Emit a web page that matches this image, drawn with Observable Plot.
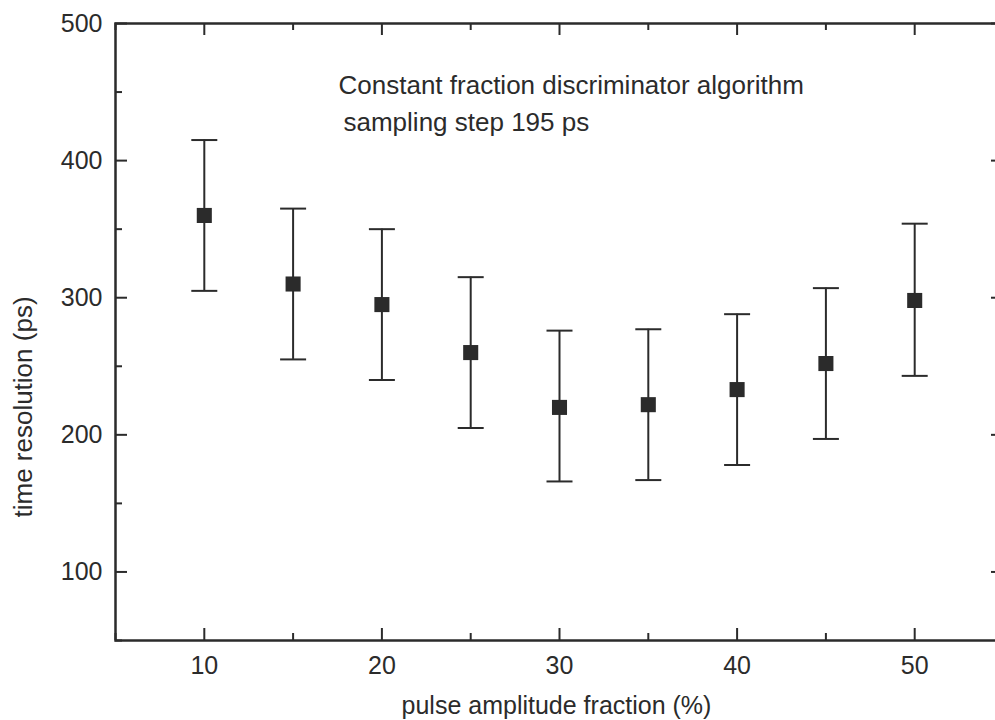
<!DOCTYPE html>
<html><head><meta charset="utf-8">
<script src="https://cdn.jsdelivr.net/npm/d3@7"></script>
<script src="https://cdn.jsdelivr.net/npm/@observablehq/plot@0.6"></script>
<style>
body{margin:0;background:#fff}
svg{font-family:"Liberation Sans",Arial,sans-serif}
</style>
</head><body><div id="chart"></div><script>
const fractions = [10, 15, 20, 25, 30, 35, 40, 45, 50];
const resolution = [360, 310, 295, 260, 220, 222, 233, 252, 298];
const errLow = [305, 255, 240, 205, 166, 167, 178, 197, 243];
const errHigh = [415, 365, 350, 315, 276, 277, 288, 307, 354];
const xMajor = [10, 20, 30, 40, 50];
const xMinor = [5, 15, 25, 35, 45, 55];
const yMajor = [100, 200, 300, 400, 500];
const yMinor = [50, 150, 250, 350, 450];
const titleLines = ["Constant fraction discriminator algorithm", "sampling step 195 ps"];
const xLabel = "pulse amplitude fraction (%)";
const yLabel = "time resolution (ps)";

const data = fractions.map((f, i) => ({f, r: resolution[i], lo: errLow[i], hi: errHigh[i]}));

const W = 995, H = 720, mL = 115, mR = -8, mT = 23, mB = 80;
const pw = W - mL - mR, ph = H - mT - mB;
const ink = "#2b2b2b";
const sw = 2;

// horizontal bar symbol for error-bar caps
const capSymbol = {
  draw(context, size) {
    const r = Math.sqrt(size / Math.PI);
    context.moveTo(-r, 0);
    context.lineTo(r, 0);
  }
};

const chart = Plot.plot({
  width: W, height: H,
  marginLeft: mL, marginRight: mR, marginTop: mT, marginBottom: mB,
  x: {domain: [5, 55]},
  y: {domain: [50, 500]},
  style: {fontFamily: '"Liberation Sans", Arial, sans-serif', background: "#fff", overflow: "visible"},
  marks: [
    Plot.frame({stroke: ink, strokeWidth: 2.5}),
    // inward ticks, left / right
    Plot.tickY(yMajor, {y: d => d, insetRight: pw - 12, stroke: ink, strokeWidth: sw}),
    Plot.tickY(yMinor, {y: d => d, insetRight: pw - 7, stroke: ink, strokeWidth: sw}),
    Plot.tickY(yMajor, {y: d => d, insetLeft: pw - 12, stroke: ink, strokeWidth: sw}),
    Plot.tickY(yMinor, {y: d => d, insetLeft: pw - 7, stroke: ink, strokeWidth: sw}),
    // inward ticks, bottom / top
    Plot.tickX(xMajor, {x: d => d, insetTop: ph - 12, stroke: ink, strokeWidth: sw}),
    Plot.tickX(xMinor, {x: d => d, insetTop: ph - 7, stroke: ink, strokeWidth: sw}),
    Plot.tickX(xMajor, {x: d => d, insetBottom: ph - 12, stroke: ink, strokeWidth: sw}),
    Plot.tickX(xMinor, {x: d => d, insetBottom: ph - 7, stroke: ink, strokeWidth: sw}),
    Plot.axisX({ticks: xMajor, tickSize: 0, tickPadding: 16, fontSize: 25, label: null, color: ink}),
    Plot.axisY({ticks: yMajor, tickSize: 0, tickPadding: 13, fontSize: 25, label: null, color: ink}),
    // error bars
    Plot.ruleX(data, {x: "f", y1: "lo", y2: "hi", stroke: ink, strokeWidth: sw}),
    Plot.dot(data, {x: "f", y: "lo", symbol: capSymbol, r: 13, stroke: ink, fill: "none", strokeWidth: sw}),
    Plot.dot(data, {x: "f", y: "hi", symbol: capSymbol, r: 13, stroke: ink, fill: "none", strokeWidth: sw}),
    Plot.dot(data, {x: "f", y: "r", symbol: "square", r: 8.5, fill: ink, stroke: "none"}),
    // annotation
    Plot.text([titleLines[0]], {frameAnchor: "top-left", dx: 223, dy: 62, textAnchor: "start", lineAnchor: "middle", fontSize: 26, fill: ink}),
    Plot.text([titleLines[1]], {frameAnchor: "top-left", dx: 228, dy: 99, textAnchor: "start", lineAnchor: "middle", fontSize: 26, fill: ink}),
    Plot.text([xLabel], {frameAnchor: "bottom", dx: -3, dy: 65, lineAnchor: "middle", fontSize: 25, fill: ink}),
    Plot.text([yLabel], {frameAnchor: "left", dx: -92, dy: 75, rotate: -90, textAnchor: "middle", lineAnchor: "middle", fontSize: 26, fill: ink})
  ]
});
document.getElementById("chart").appendChild(chart);
</script></body></html>
